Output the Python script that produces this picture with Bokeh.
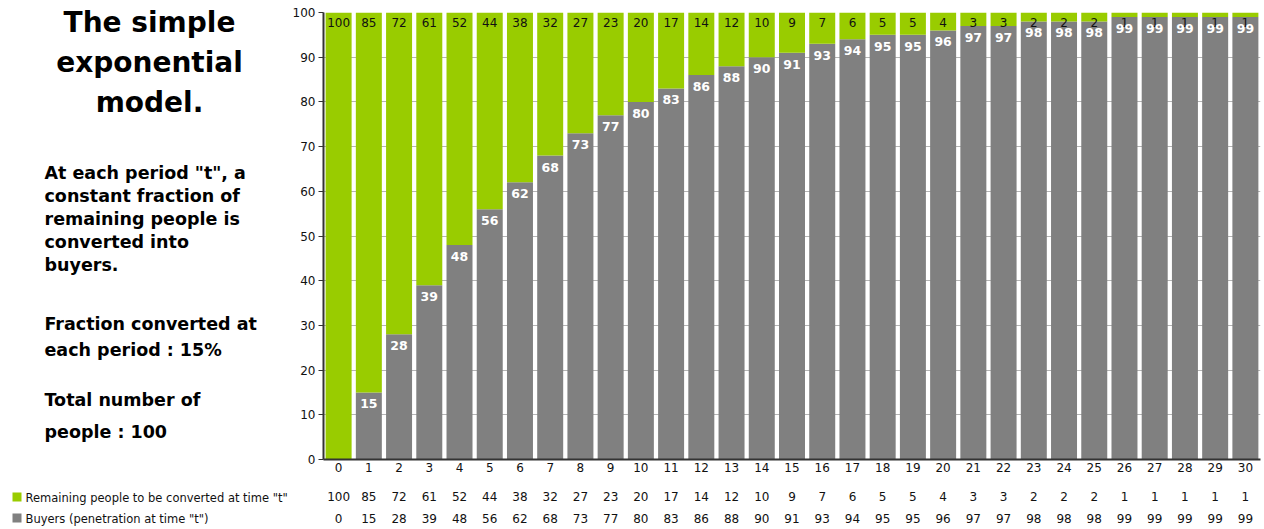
from bokeh.plotting import figure
from bokeh.layouts import row
from bokeh.models import (ColumnDataSource, LabelSet, Label, Range1d, LinearAxis,
                          FixedTicker, BoxAnnotation)
from bokeh.core.properties import value
from bokeh.embed import file_html
from bokeh.resources import INLINE

periods = list(range(31))
remaining = [100, 85, 72, 61, 52, 44, 38, 32, 27, 23, 20, 17, 14, 12, 10, 9, 7, 6, 5, 5, 4, 3, 3, 2, 2, 2, 1, 1, 1, 1, 1]
buyers = [0, 15, 28, 39, 48, 56, 62, 68, 73, 77, 80, 83, 86, 88, 90, 91, 93, 94, 95, 95, 96, 97, 97, 98, 98, 98, 99, 99, 99, 99, 99]
series_names = ['Remaining people to be converted at time "t"', 'Buyers (penetration at time "t")']
title_lines = ["The simple", "exponential", "model."]
body_lines = ['At each period "t", a', "constant fraction of", "remaining people is",
              "converted into", "buyers.", "Fraction converted at", "each period : 15%",
              "Total number of", "people : 100"]

GREEN = "#99CC00"
GRAY = "#808080"
FONT = "DejaVu Sans"
W, H = 1264, 529
LW = 289  # width of the left text panel

# ---------------- left text panel ----------------
left = figure(width=LW, height=H, output_backend="svg", toolbar_location=None,
              x_range=Range1d(0, LW), y_range=Range1d(H, 0),
              x_axis_type=None, y_axis_type=None, frame_align=False,
              min_border_left=0, min_border_right=0, min_border_top=0, min_border_bottom=0)
left.outline_line_color = None
left.xgrid.visible = False
left.ygrid.visible = False

for line, cy in zip(title_lines, (22, 62, 102)):
    left.add_layout(Label(x=149, y=cy, text=line, text_font=FONT, text_font_size="28px",
                          text_font_style="bold", text_color="black",
                          text_align="center", text_baseline="middle"))
for line, cy in zip(body_lines, (172, 195, 218, 241, 264, 323, 349, 399, 431)):
    left.add_layout(Label(x=44, y=cy, text=line, text_font=FONT, text_font_size="17.5px",
                          text_font_style="bold", text_color="black",
                          text_align="left", text_baseline="middle"))
for name, col, cy in ((series_names[0], GREEN, 497), (series_names[1], GRAY, 518)):
    left.add_layout(BoxAnnotation(left=12, right=21, top=cy - 5, bottom=cy + 4,
                                  fill_color=col, fill_alpha=1, line_color=None))
    left.add_layout(Label(x=25, y=cy, text=name, text_font=FONT, text_font_size="11.5px",
                          text_color="#111111", text_baseline="middle", text_align="left"))

# ---------------- main chart ----------------
p = figure(width=W - LW, height=H, output_backend="svg", toolbar_location=None,
           x_range=Range1d(-0.5, 30.5), y_range=Range1d(0, 100), frame_align=False,
           min_border_left=322 - LW, min_border_right=4, min_border_top=12, min_border_bottom=70)
p.outline_line_color = None
p.background_fill_color = "white"

tops = [b + r for b, r in zip(buyers, remaining)]
src = ColumnDataSource(dict(x=periods, b=buyers, r=remaining, top=tops,
                            bl=[str(v) if v > 0 else "" for v in buyers],
                            rl=[str(v) for v in remaining]))

p.vbar(x="x", bottom=0, top="b", width=0.86, fill_color=GRAY, line_color=None, source=src)
p.vbar(x="x", bottom="b", top="top", width=0.86, fill_color=GREEN, line_color=None, source=src)

p.add_layout(LabelSet(x="x", y="top", text="rl", source=src, text_align="center",
                      text_baseline="top", y_offset=-5, text_font_size=value("12px"),
                      text_font=value(FONT), text_color="#111111"))
p.add_layout(LabelSet(x="x", y="b", text="bl", source=src, text_align="center",
                      text_baseline="top", y_offset=-7, text_font_size=value("12.5px"),
                      text_font=value(FONT), text_font_style="bold", text_color="white"))

p.xgrid.grid_line_color = None
p.ygrid.grid_line_color = "#b4b4b4"
p.ygrid.ticker = FixedTicker(ticks=list(range(0, 101, 10)))

p.yaxis.ticker = FixedTicker(ticks=list(range(0, 101, 10)))
p.yaxis.axis_line_color = "#333333"
p.yaxis.axis_line_width = 2
p.yaxis.major_tick_line_color = "#333333"
p.yaxis.major_tick_out = 5
p.yaxis.major_tick_in = 0
p.yaxis.minor_tick_line_color = None
p.yaxis.major_label_text_font = FONT
p.yaxis.major_label_text_font_size = "12px"
p.yaxis.major_label_text_color = "#111111"
p.yaxis.major_label_standoff = 3

p.xaxis.ticker = FixedTicker(ticks=periods)
p.xaxis.axis_line_color = "#333333"
p.xaxis.axis_line_width = 2
p.xaxis.major_tick_line_color = None
p.xaxis.major_tick_out = 0
p.xaxis.major_tick_in = 0
p.xaxis.minor_tick_line_color = None
p.xaxis.major_label_text_font = FONT
p.xaxis.major_label_text_font_size = "12px"
p.xaxis.major_label_text_color = "#111111"
p.xaxis.major_label_standoff = 3

# data table rows as extra axes
for vals, standoff in ((remaining, 17), (buyers, 10)):
    ax = LinearAxis(ticker=FixedTicker(ticks=periods),
                    major_label_overrides={i: str(v) for i, v in zip(periods, vals)})
    ax.axis_line_color = None
    ax.major_tick_line_color = None
    ax.minor_tick_line_color = None
    ax.major_tick_out = 0
    ax.major_tick_in = 0
    ax.major_label_text_font = FONT
    ax.major_label_text_font_size = "12px"
    ax.major_label_text_color = "#111111"
    ax.major_label_standoff = standoff
    p.add_layout(ax, "below")

layout = row(left, p, spacing=0)
open("out.html", "w").write(file_html(layout, INLINE))
